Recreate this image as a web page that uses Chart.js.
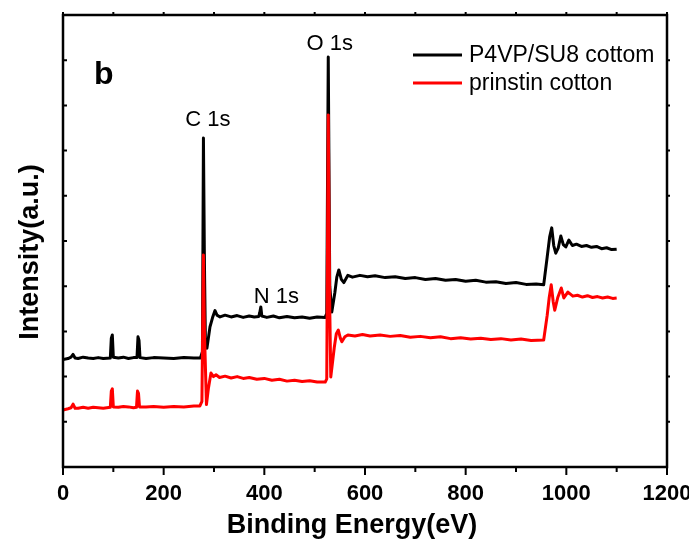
<!DOCTYPE html>
<html lang="en">
<head>
<meta charset="UTF-8">
<title>XPS survey</title>
<script src="https://cdn.jsdelivr.net/npm/chart.js"></script>
<style>
    html, body { margin: 0; padding: 0; background: #fff; }
    #wrap { width: 689px; height: 539px; }
</style>
</head>
<body>
<div id="wrap"><canvas id="xpsChart" width="689" height="539"></canvas></div>
<script>
// binding energy (eV) and intensity (a.u.)
var p4vpEnergy = [0, 10, 16, 20, 24, 30, 40, 50, 60, 70, 80, 94, 96, 98, 100, 110, 120, 130, 140, 147, 149, 151, 153, 165, 180, 200, 220, 240, 260,
    273, 277, 279, 281, 283, 286, 292, 297, 302, 306, 312, 322, 334, 346, 358, 370, 380, 389, 391, 393, 395, 405, 418, 430, 445, 460, 475, 490, 505,
    521, 524, 527, 530, 534, 540, 544, 548, 553, 558, 566, 575, 590, 605, 620, 640, 660, 680, 700, 720, 740, 760, 780, 800, 820, 840, 860, 880, 900, 920, 940, 955,
    962, 967, 971, 975, 979, 984, 989, 994, 999, 1005, 1012, 1020, 1030, 1040, 1050, 1060, 1070, 1080, 1090, 1100];
var p4vpIntensity = [23.8, 24.0, 24.3, 24.9, 24.1, 24.0, 24.3, 24.1, 24.0, 24.2, 24.0, 24.1, 28.5, 29.2, 24.3, 24.1, 24.3, 24.0, 24.2, 24.2, 28.8, 28.0, 24.2, 24.0, 24.2, 24.1, 24.0, 24.2, 24.1,
    24.1, 25.5, 72.8, 45.0, 27.0, 26.3, 31.0, 33.0, 34.6, 33.6, 33.2, 33.6, 33.2, 33.5, 33.1, 33.4, 33.2, 33.3, 34.2, 35.4, 33.4, 33.1, 33.4, 33.0, 33.3, 33.0, 33.2, 32.9, 33.2,
    33.1, 34.0, 90.7, 40.0, 34.3, 38.5, 42.0, 43.6, 41.5, 40.8, 42.4, 42.0, 42.4, 42.1, 42.3, 41.9, 42.1, 41.7, 41.9, 41.5, 41.7, 41.3, 41.5, 41.1, 41.3, 40.9, 41.0, 40.6, 40.8, 40.4, 40.5, 40.3,
    46.5, 51.0, 52.9, 49.0, 47.3, 48.5, 51.1, 49.2, 48.7, 50.2, 49.0, 49.3, 48.8, 49.0, 48.6, 48.8, 48.3, 48.5, 48.1, 48.2];

var cottonEnergy = [0, 10, 16, 20, 24, 30, 40, 50, 60, 70, 80, 94, 96, 98, 100, 110, 120, 130, 140, 146, 148, 150, 152, 165, 180, 200, 220, 240, 260,
    272, 276, 279, 281, 285, 289, 294, 299, 304, 311, 322, 334, 346, 358, 370, 385, 400, 415, 430, 445, 460, 475, 490, 505,
    521, 524, 527, 530, 532, 539, 543, 547, 551, 554, 560, 566, 580, 595, 610, 630, 650, 670, 690, 710, 730, 750, 770, 790, 810, 830, 850, 870, 890, 910, 930, 955,
    962, 966, 970, 974, 977, 983, 990, 995, 1003, 1013, 1022, 1032, 1042, 1052, 1062, 1072, 1082, 1092, 1100];
var cottonIntensity = [12.6, 12.9, 13.1, 13.9, 13.0, 13.0, 13.2, 13.0, 13.2, 13.1, 13.0, 13.2, 16.8, 17.3, 13.3, 13.2, 13.4, 13.3, 13.1, 13.2, 16.8, 16.3, 13.3, 13.3, 13.4, 13.2, 13.4, 13.3, 13.5,
    13.5, 14.5, 46.9, 30.0, 13.8, 17.5, 20.8, 20.0, 20.4, 19.8, 20.1, 19.7, 20.0, 19.6, 19.8, 19.4, 19.6, 19.2, 19.4, 19.0, 19.2, 18.9, 19.1, 18.8,
    18.8, 19.5, 77.9, 35.0, 19.9, 26.5, 29.5, 30.3, 28.5, 27.7, 28.8, 29.2, 29.0, 29.3, 29.0, 29.2, 28.9, 29.1, 28.7, 28.9, 28.6, 28.8, 28.4, 28.6, 28.3, 28.5, 28.2, 28.4, 28.1, 28.3, 28.0, 28.1,
    33.6, 37.5, 40.3, 36.5, 34.7, 37.5, 39.6, 37.4, 38.7, 37.8, 38.0, 37.6, 37.9, 37.5, 37.7, 37.4, 37.6, 37.3, 37.4];

var seriesNames = ['P4VP/SU8 cottom', 'prinstin cotton'];
var seriesColors = ['#000000', '#ff0000'];
var peakNames = ['C 1s', 'O 1s', 'N 1s'];
var xTickValues = [0, 200, 400, 600, 800, 1000, 1200];
var xAxisTitle = 'Binding Energy(eV)';
var yAxisTitle = 'Intensity(a.u.)';

var fontFam = "'Liberation Sans', Arial, Helvetica, sans-serif";

function toPoints(xs, ys) {
    return xs.map((x, i) => ({ x: x, y: ys[i] }));
}

// frame, tick marks, axis titles, peak labels, panel letter, legend
var decorPlugin = {
    id: 'decor',
    afterDraw(chart) {
        var ctx = chart.ctx;
        var a = chart.chartArea;
        var xs = chart.scales.x, ys = chart.scales.y;
        ctx.save();
        ctx.strokeStyle = '#000';
        ctx.lineWidth = 2.5;
        ctx.strokeRect(a.left, a.top, a.right - a.left, a.bottom - a.top);

        ctx.lineWidth = 2;
        ctx.beginPath();
        for (var v = 0; v <= 1200; v += 100) {
            var px = xs.getPixelForValue(v);
            var len = v % 200 === 0 ? 8 : 5;
            ctx.moveTo(px, a.bottom);
            ctx.lineTo(px, a.bottom + len);
            ctx.moveTo(px, a.top);
            ctx.lineTo(px, a.top - 3);
        }
        for (var t = 10; t < 100; t += 10) {
            var py = ys.getPixelForValue(t);
            ctx.moveTo(a.left, py);
            ctx.lineTo(a.left + 4, py);
            ctx.moveTo(a.right, py);
            ctx.lineTo(a.right + 3, py);
        }
        ctx.stroke();

        ctx.fillStyle = '#000';
        ctx.font = 'bold 27px ' + fontFam;
        ctx.textAlign = 'center';
        ctx.textBaseline = 'alphabetic';
        ctx.fillText(xAxisTitle, 352, 533);
        ctx.save();
        ctx.translate(38, 252);
        ctx.rotate(-Math.PI / 2);
        ctx.fillText(yAxisTitle, 0, 0);
        ctx.restore();

        ctx.font = 'bold 32px ' + fontFam;
        ctx.textAlign = 'left';
        ctx.fillText('b', a.left + 31, a.top + 69);

        ctx.font = '22px ' + fontFam;
        ctx.textAlign = 'center';
        var peakPos = [[288, 75.4], [530, 92.3], [424, 36.3]];
        peakNames.forEach(function (name, i) {
            ctx.fillText(name, xs.getPixelForValue(peakPos[i][0]), ys.getPixelForValue(peakPos[i][1]));
        });

        ctx.font = '23px ' + fontFam;
        ctx.textAlign = 'left';
        ctx.textBaseline = 'middle';
        ctx.lineWidth = 3;
        seriesNames.forEach(function (name, i) {
            var ly = a.top + 40 + i * 28;
            ctx.strokeStyle = seriesColors[i];
            ctx.beginPath();
            ctx.moveTo(a.left + 350, ly);
            ctx.lineTo(a.left + 399, ly);
            ctx.stroke();
            ctx.fillText(name, a.left + 406, ly + 1);
        });
        ctx.restore();
    }
};

var ctxXps = document.getElementById('xpsChart').getContext('2d');
var xpsChart = new Chart(ctxXps, {
    type: 'line',
    data: {
        datasets: [{
            label: seriesNames[0],
            data: toPoints(p4vpEnergy, p4vpIntensity),
            borderColor: seriesColors[0],
            borderWidth: 3,
            borderJoinStyle: 'round',
            pointRadius: 0,
            tension: 0,
            order: 2
        }, {
            label: seriesNames[1],
            data: toPoints(cottonEnergy, cottonIntensity),
            borderColor: seriesColors[1],
            borderWidth: 3,
            borderJoinStyle: 'round',
            pointRadius: 0,
            tension: 0,
            order: 1
        }]
    },
    options: {
        responsive: false,
        animation: false,
        layout: { padding: { top: 15, right: 22, left: 0, bottom: 0 } },
        scales: {
            x: {
                type: 'linear',
                min: 0,
                max: 1200,
                afterBuildTicks: function (scale) {
                    scale.ticks = xTickValues.map(v => ({ value: v }));
                },
                afterFit: function (scale) {
                    scale.height = 72;
                    scale.paddingLeft = 0;
                    scale.paddingRight = 0;
                },
                ticks: {
                    color: '#000',
                    padding: 6,
                    maxRotation: 0,
                    autoSkip: false,
                    callback: function (value) { return String(value); },
                    font: { family: fontFam, size: 22, weight: 'bold' }
                },
                grid: { display: true, drawOnChartArea: false, tickLength: 8, tickColor: 'rgba(0,0,0,0)' },
                border: { display: false },
                title: { display: false }
            },
            y: {
                min: 0,
                max: 100,
                afterFit: function (scale) {
                    scale.width = 63;
                },
                ticks: { display: false },
                grid: { display: false },
                border: { display: false },
                title: { display: false }
            }
        },
        plugins: {
            legend: { display: false },
            tooltip: { enabled: false }
        }
    },
    plugins: [decorPlugin]
});
</script>
</body>
</html>
